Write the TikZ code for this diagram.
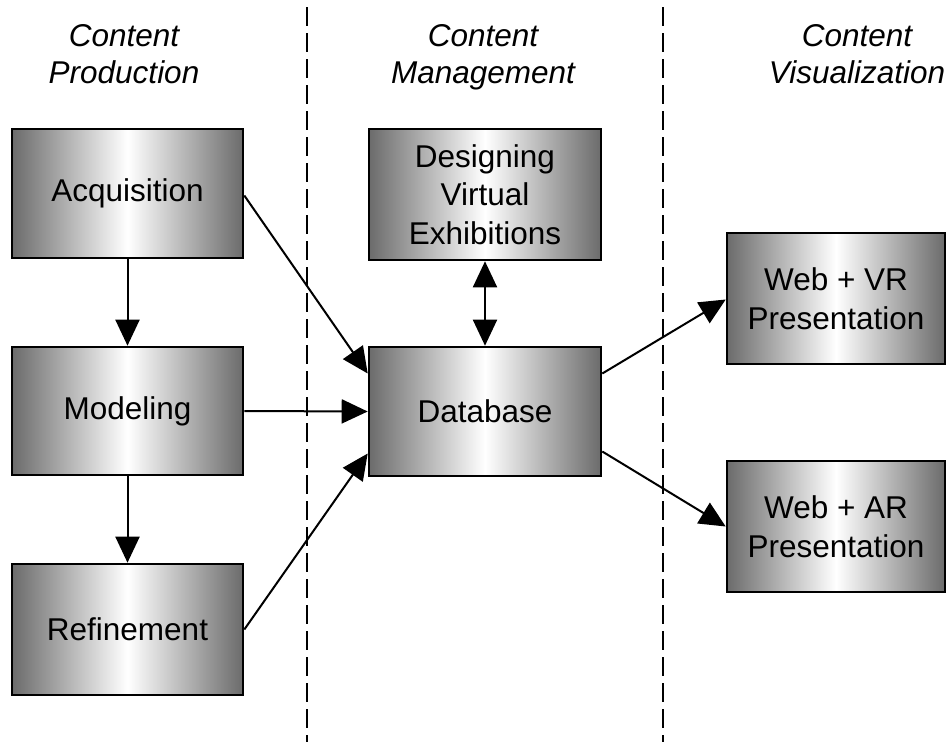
\documentclass[tikz,border=0pt]{standalone}
\usepackage{fontspec}
\setmainfont{Liberation Sans}
\usetikzlibrary{arrows.meta}
\definecolor{boxedge}{rgb}{0.42,0.42,0.42}
\tikzset{
  box/.style={draw=black, line width=2.6pt, rectangle, inner sep=0pt,
    left color=boxedge, right color=boxedge, middle color=white,
    align=center, font=\fontsize{31.5}{38.5}\selectfont},
  hdr/.style={align=center, anchor=north, inner sep=0pt, font=\fontsize{31.5}{37}\selectfont\itshape},
  arr/.style={line width=2pt, -{Triangle[length=26pt,width=24pt]}},
  darr/.style={line width=2pt, {Triangle[length=26pt,width=24pt]}-{Triangle[length=26pt,width=24pt]}},
  sep/.style={line width=2pt, dash pattern=on 19pt off 7pt}
}
\begin{document}
\begin{tikzpicture}[x=1pt,y=-1pt]
\useasboundingbox (0,0) rectangle (947,742);
% separators
\coordinate (s1a) at (307,7);
\coordinate (s1b) at (307,742);
\coordinate (s2a) at (663,7);
\coordinate (s2b) at (663,742);
\draw[sep] (s1a) -- (s1b);
\draw[sep] (s2a) -- (s2b);
% headers
\node[hdr] (h1) at (124,24) {Content\\Production};
\node[hdr] (h2) at (483,24) {Content\\Management};
\node[hdr] (h3) at (857,24) {Content\\Visualization};
% boxes
\node[box, minimum width=231pt, minimum height=129pt] (acq) at (127.5,193.5) {Acquisition};
\node[box, minimum width=231pt, minimum height=128pt] (mod) at (127.5,411) {Modeling};
\node[box, minimum width=231pt, minimum height=131pt] (ref) at (127.5,629.5) {Refinement};
\node[box, minimum width=232pt, minimum height=131pt] (des) at (485,194.5) {Designing\\Virtual\\Exhibitions};
\node[box, minimum width=232pt, minimum height=129pt] (db) at (485,411.5) {Database};
\node[box, minimum width=218pt, minimum height=131pt] (vr) at (836,298.5) {Web + VR\\Presentation};
\node[box, minimum width=218pt, minimum height=131pt] (ar) at (836,526.5) {Web + AR\\Presentation};
% connectors
\draw[arr] (acq.south) -- (mod.north);
\draw[arr] (mod.south) -- (ref.north);
\draw[arr] ([yshift=-2pt]acq.east) -- ([yshift=38pt]db.west);
\draw[arr] (mod.east) -- (db.west);
\draw[arr] (ref.east) -- ([yshift=-42pt]db.west);
\draw[darr] (des.south) -- (db.north);
\draw[arr] ([yshift=38pt]db.east) -- ([yshift=-1pt]vr.west);
\draw[arr] ([yshift=-40pt]db.east) -- (ar.west);
\end{tikzpicture}
\end{document}
